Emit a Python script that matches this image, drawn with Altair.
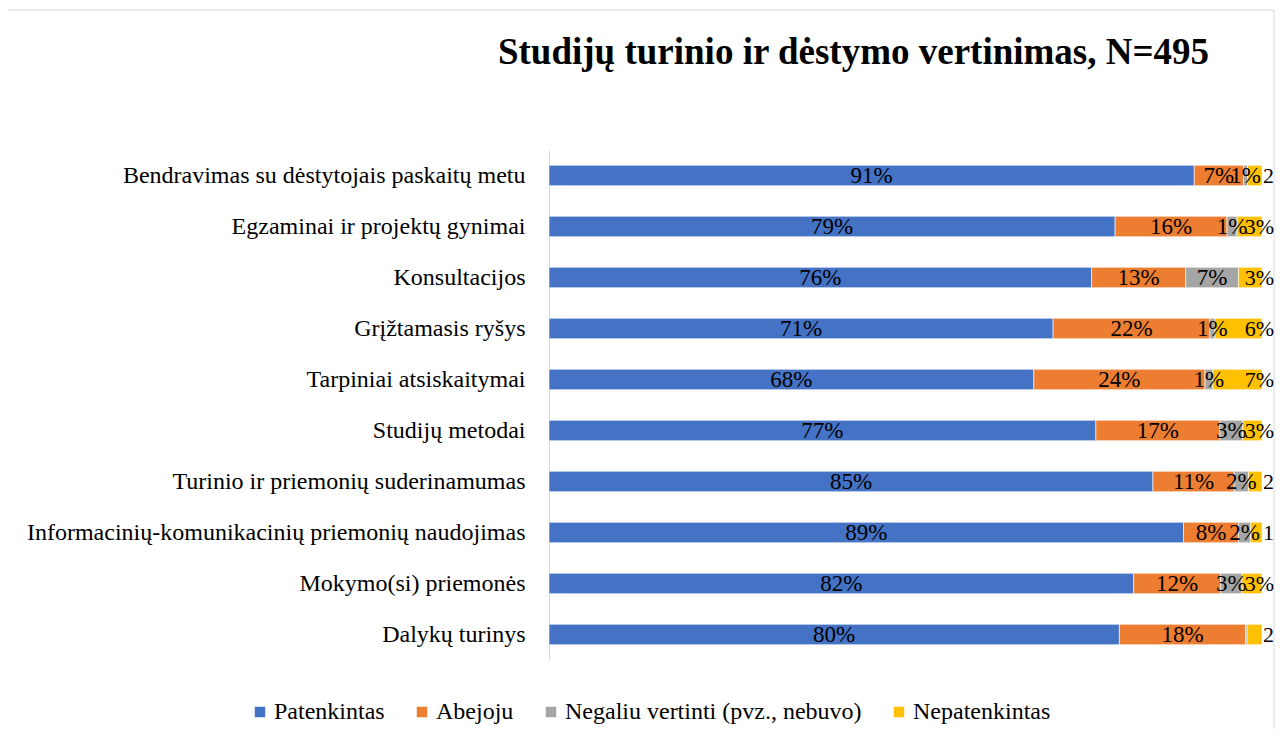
import altair as alt
import pandas as pd

categories = [
    "Bendravimas su dėstytojais paskaitų metu",
    "Egzaminai ir projektų gynimai",
    "Konsultacijos",
    "Grįžtamasis ryšys",
    "Tarpiniai atsiskaitymai",
    "Studijų metodai",
    "Turinio ir priemonių suderinamumas",
    "Informacinių-komunikacinių priemonių naudojimas",
    "Mokymo(si) priemonės",
    "Dalykų turinys",
]
series = ["Patenkintas", "Abejoju", "Negaliu vertinti (pvz., nebuvo)", "Nepatenkintas"]
colors = ["#4472C4", "#ED7D31", "#A5A5A5", "#FFC000"]

patenkintas = [90.5, 79.4, 76.1, 70.7, 68.0, 76.7, 84.7, 89.0, 82.0, 80.0]
abejoju = [6.9, 15.7, 13.2, 22.0, 24.0, 17.4, 11.4, 7.7, 12.2, 17.7]
negaliu = [0.6, 1.4, 7.4, 0.7, 1.1, 3.2, 2.0, 1.7, 3.0, 0.2]
nepatenkintas = [2.0, 3.5, 3.3, 6.6, 6.9, 2.7, 1.9, 1.6, 2.8, 2.1]

pat_lbl = ["91%", "79%", "76%", "71%", "68%", "77%", "85%", "89%", "82%", "80%"]
abe_lbl = ["7%", "16%", "13%", "22%", "24%", "17%", "11%", "8%", "12%", "18%"]
neg_lbl = ["1%", "1%", "7%", "1%", "1%", "3%", "2%", "2%", "3%", ""]
nep_lbl = ["2", "3%", "3%", "6%", "7%", "3%", "2", "1", "3%", "2"]

rows = []
for vals, lbls, s_i in [(patenkintas, pat_lbl, 0), (abejoju, abe_lbl, 1),
                        (negaliu, neg_lbl, 2), (nepatenkintas, nep_lbl, 3)]:
    for c, v, l in zip(categories, vals, lbls):
        rows.append({"cat": c, "series": series[s_i], "order": s_i, "value": v, "label": l})
df = pd.DataFrame(rows)

FONT = "Liberation Serif"

base = alt.Chart(df).transform_stack(
    stack="value", groupby=["cat"], as_=["x0", "x1"], offset="normalize",
    sort=[alt.SortField("order", order="ascending")]
).transform_calculate(mid="(datum.x0 + datum.x1) / 2")

xscale = alt.Scale(domain=[0, 1], nice=False)

ycat = alt.Y("cat:N", sort=categories, title=None,
             scale=alt.Scale(paddingInner=0.6, paddingOuter=0.3),
             axis=alt.Axis(domain=True, domainColor="#D9D9D9", ticks=False, grid=False,
                           labelFont=FONT, labelFontSize=24, labelColor="#000000",
                           labelPadding=24, labelLimit=700))

bars = base.mark_bar(stroke="white", strokeWidth=0.6).encode(
    y=ycat,
    x=alt.X("x0:Q", scale=xscale, axis=None),
    x2="x1:Q",
    color=alt.Color("series:N", sort=series,
                    scale=alt.Scale(domain=series, range=colors),
                    legend=alt.Legend(title=None, orient="none", direction="horizontal",
                                      legendX=-301, legendY=550,
                                      symbolType="square", symbolSize=110,
                                      symbolStrokeWidth=0,
                                      labelFont=FONT, labelFontSize=24, labelColor="#000000",
                                      columnPadding=25, labelOffset=2, labelLimit=500)),
)

texts_mid = base.transform_filter("datum.order < 3").mark_text(
    font=FONT, fontSize=23, color="#000000", baseline="middle").encode(
    y=alt.Y("cat:N", sort=categories),
    x=alt.X("mid:Q", scale=xscale),
    text="label:N",
)

texts_end = base.transform_filter("datum.order == 3").mark_text(
    font=FONT, fontSize=22, color="#000000", baseline="middle", align="right", dx=12).encode(
    y=alt.Y("cat:N", sort=categories),
    x=alt.X("x1:Q", scale=xscale),
    text="label:N",
)

frame = alt.Chart(pd.DataFrame({"f": [0]})).mark_rect(
    filled=False, stroke="#D9D9D9", strokeWidth=1).encode(
    x=alt.value(-542), x2=alt.value(725), y=alt.value(-140), y2=alt.value(640)
)

chart = alt.layer(frame, bars, texts_mid, texts_end).properties(
    width=713, height=510,
    title=alt.TitleParams("Studijų turinio ir dėstymo vertinimas, N=495",
                          font=FONT, fontSize=37, fontWeight="bold", color="#000000",
                          anchor="middle", dx=-52, offset=-62, limit=1200, zindex=2),
    autosize=alt.AutoSizeParams(type="none"),
    padding={"left": 541, "top": 142, "right": 13, "bottom": 69},
).configure_view(stroke=None)

chart.save("out.html", embed_options={"renderer": "svg", "actions": False})
